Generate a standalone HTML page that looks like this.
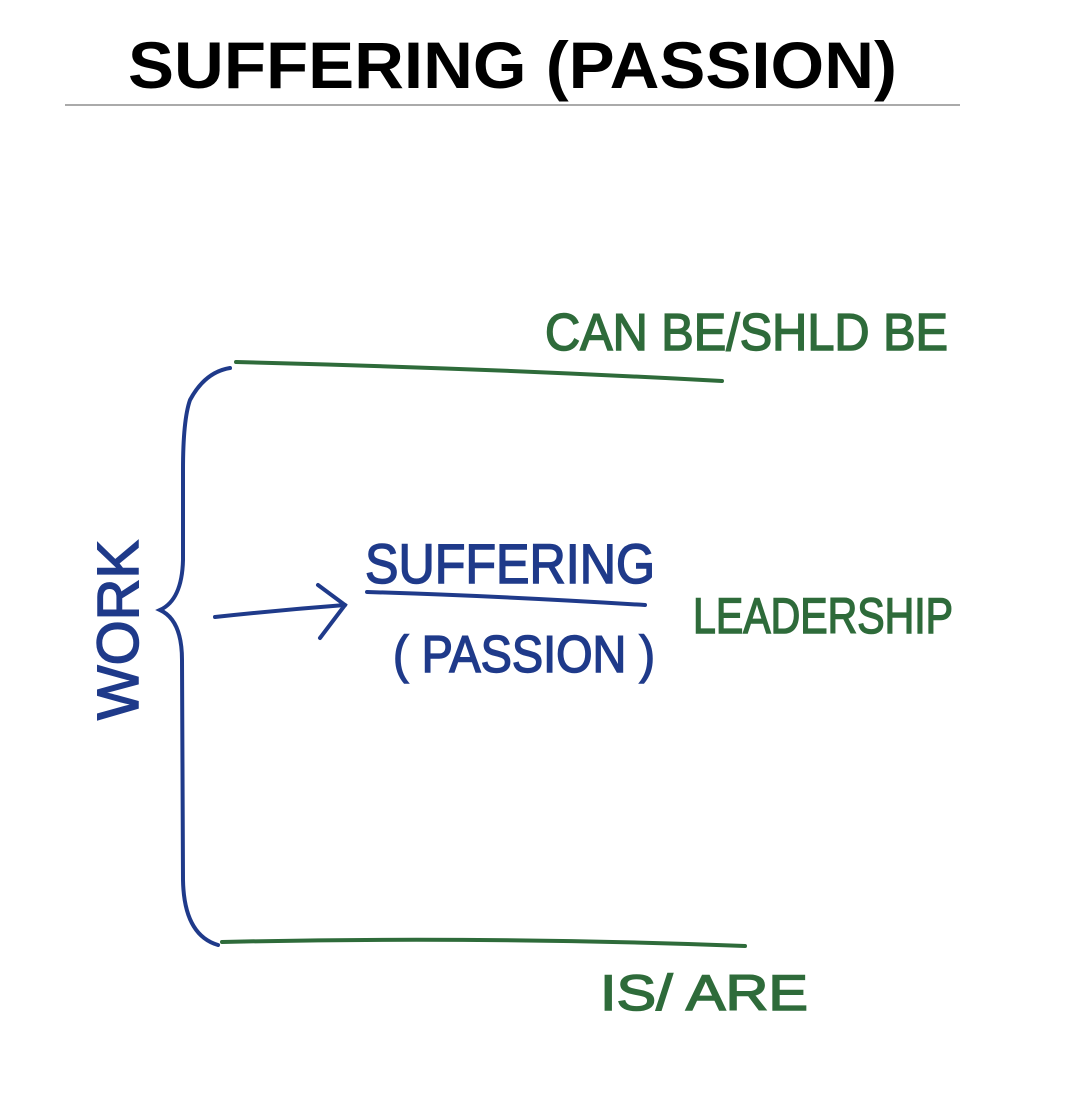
<!DOCTYPE html>
<html><head><meta charset="utf-8"><style>
html,body{margin:0;padding:0;background:#fff;}
svg{display:block;}
</style></head><body>
<svg width="1080" height="1110" viewBox="0 0 1080 1110" xmlns="http://www.w3.org/2000/svg">
<text x="128" y="88" font-family="Liberation Sans, sans-serif" font-weight="bold" font-size="66" textLength="769" lengthAdjust="spacingAndGlyphs" fill="#000">SUFFERING (PASSION)</text>
<line x1="65" y1="105" x2="960" y2="105" stroke="#777" stroke-width="1.2"/>
<g fill="none" stroke-linecap="round">
<path d="M236 362 Q480 368 722 381" stroke="#2e6b3a" stroke-width="4"/>
<path d="M222 942 Q480 936 745 946" stroke="#2e6b3a" stroke-width="4"/>
<path d="M230 368 Q205 372 190 400 Q183 420 183 470 L183 560 Q182 600 160 610 Q182 620 182 660 L183 880 Q184 935 218 945" stroke="#1f3a8a" stroke-width="4"/>
<path d="M215 617 Q280 610 345 605" stroke="#1f3a8a" stroke-width="4"/>
<path d="M318 585 L345 605 L320 638" stroke="#1f3a8a" stroke-width="4"/>
<path d="M367 592 Q500 596 645 605" stroke="#1f3a8a" stroke-width="4"/>
</g>
<g font-family="Liberation Sans Narrow, Liberation Sans, sans-serif" stroke-width="1.5">
<text x="545" y="350" font-size="52" fill="#2e6b3a" stroke="#2e6b3a" textLength="403" lengthAdjust="spacingAndGlyphs">CAN BE/SHLD BE</text>
<text x="600" y="1010" font-size="50" fill="#2e6b3a" stroke="#2e6b3a" textLength="208" lengthAdjust="spacingAndGlyphs">IS/ ARE</text>
<text x="693" y="633" font-size="50" fill="#2e6b3a" stroke="#2e6b3a" textLength="260" lengthAdjust="spacingAndGlyphs">LEADERSHIP</text>
<text x="365" y="583" font-size="56" fill="#1f3a8a" stroke="#1f3a8a" textLength="290" lengthAdjust="spacingAndGlyphs">SUFFERING</text>
<text x="393" y="672" font-size="52" fill="#1f3a8a" stroke="#1f3a8a" textLength="262" lengthAdjust="spacingAndGlyphs">( PASSION )</text>
<text transform="translate(138 720) rotate(-90)" font-size="58" fill="#1f3a8a" stroke="#1f3a8a" textLength="180" lengthAdjust="spacingAndGlyphs">WORK</text>
</g>
</svg>
</body></html>
